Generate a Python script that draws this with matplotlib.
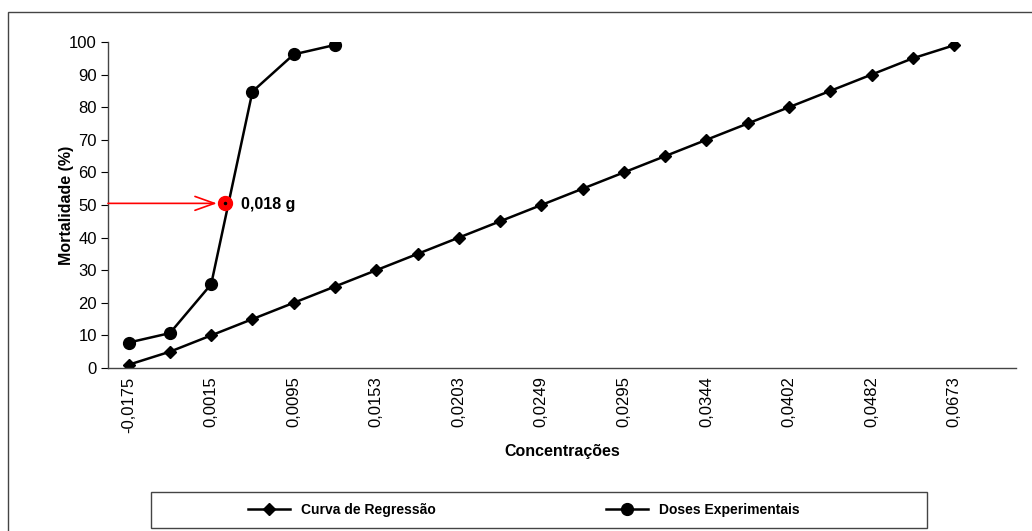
import numpy as np
import matplotlib.pyplot as plt
from matplotlib.patches import Rectangle

plt.rcParams['font.family'] = ['Liberation Sans', 'DejaVu Sans']

# ----------------------------
# Data
# ----------------------------
conc_labels = ["-0,0175", "", "0,0015", "", "0,0095", "", "0,0153", "", "0,0203", "",
               "0,0249", "", "0,0295", "", "0,0344", "", "0,0402", "", "0,0482", "",
               "0,0673", ""]
regressao = [1, 5, 10, 15, 20, 25, 30, 35, 40, 45, 50, 55, 60, 65, 70, 75, 80, 85, 90, 95, 99]
doses = [7.8, 10.7, 25.7, 84.8, 96.2, 99.1]

dl50_pos = 2.34      # position of the DL50 point between categories
dl50_val = 50.5
dl50_text = "0,018 g"

# ----------------------------
# Figure
# ----------------------------
W, H = 1032, 531
fig = plt.figure(figsize=(W/100, H/100), dpi=100)
ax = fig.add_axes([108/W, 1 - 368/H, (1016 - 108)/W, (368 - 42)/H])

# outer chart border
fig.patches.append(Rectangle((8/W, -0.05), 1.1, 1 - 12/H + 0.05,
                             transform=fig.transFigure, fill=False,
                             edgecolor="#444444", linewidth=1.0))
# legend box
fig.patches.append(Rectangle((151/W, 1 - 528/H), (927 - 151)/W, (528 - 492)/H,
                             transform=fig.transFigure, fill=False,
                             edgecolor="#444444", linewidth=1.0))

x_reg = np.arange(len(regressao))
x_dos = np.arange(len(doses))

ax.plot(x_reg, regressao, color="black", linewidth=1.8, marker="D",
        markersize=6.5, label="Curva de Regressão")
ax.plot(x_dos, doses, color="black", linewidth=1.8, marker="o",
        markersize=8.5, label="Doses Experimentais")

# DL50 marker and arrow
ax.annotate("", xy=(dl50_pos, dl50_val), xytext=(-0.5, dl50_val),
            arrowprops=dict(arrowstyle="->,head_length=1.4,head_width=0.5",
                            color="red", linewidth=1.2, shrinkA=0, shrinkB=6),
            annotation_clip=False)
ax.plot(dl50_pos, dl50_val, marker="o", markersize=10, color="red", zorder=5)
ax.plot(dl50_pos, dl50_val, marker="o", markersize=1.5, color="black", zorder=6)
ax.text(dl50_pos + 0.38, dl50_val - 0.5, dl50_text, fontsize=11.5, fontweight="bold",
        va="center", ha="left")

ax.set_xlim(-0.5, len(conc_labels) - 0.5)
ax.set_ylim(0, 100)
ax.set_yticks(np.arange(0, 101, 10))
ax.set_xticks(np.arange(len(conc_labels)))
ax.set_xticklabels(conc_labels, rotation=90, fontsize=12)
ax.tick_params(axis="x", length=0, pad=6)
ax.tick_params(axis="y", direction="out", length=5, labelsize=12, pad=3)

for side in ["top", "right"]:
    ax.spines[side].set_visible(False)
for side in ["left", "bottom"]:
    ax.spines[side].set_color("#444444")
    ax.spines[side].set_linewidth(1.0)

ax.set_ylabel("Mortalidade (%)", fontsize=11.5, fontweight="bold", va="center")
ax.yaxis.set_label_coords((66 - 108)/908, 0.5)
ax.set_xlabel("Concentrações", fontsize=11.5, fontweight="bold", labelpad=8)

leg = fig.legend(loc="center", bbox_to_anchor=(524/W, 1 - 510/H), ncol=2,
                 frameon=False, fontsize=10, handlelength=3,
                 columnspacing=12.3, borderpad=0.6)
for t in leg.get_texts():
    t.set_fontweight("bold")

fig.savefig("out.png", dpi=100)
